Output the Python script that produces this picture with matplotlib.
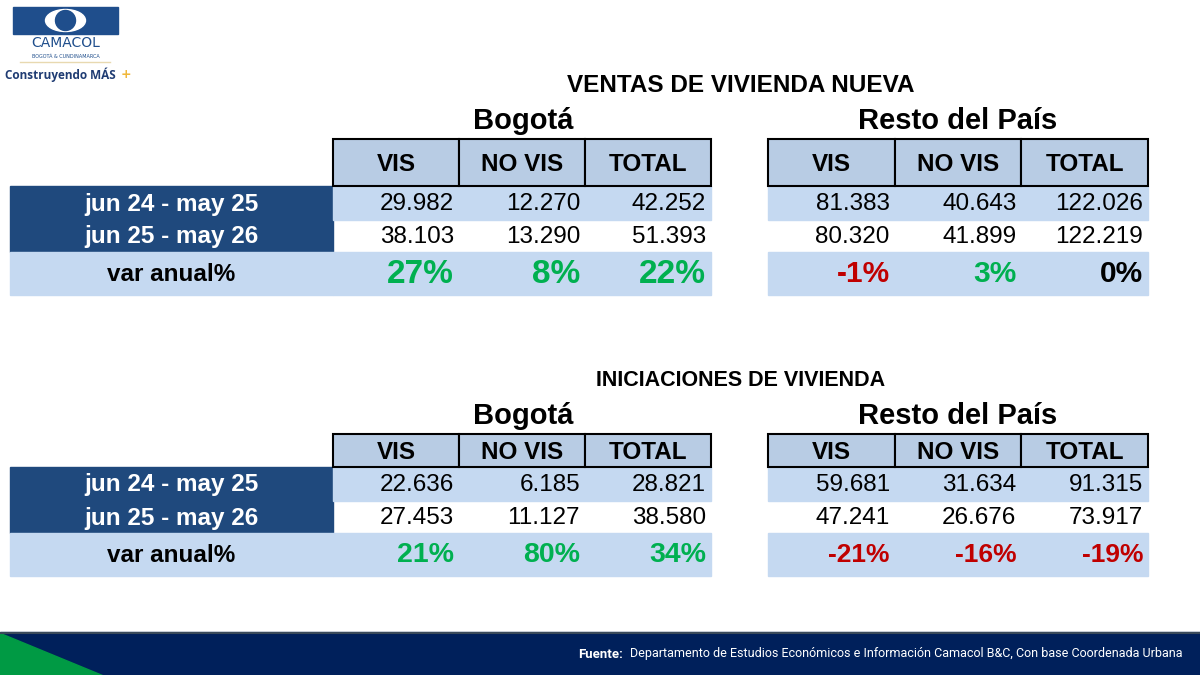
import matplotlib.pyplot as plt
from matplotlib.patches import Rectangle, Polygon, Ellipse

cols = ['VIS', 'NO VIS', 'TOTAL']
row_labels = ['jun 24 - may 25', 'jun 25 - may 26', 'var anual%']

ventas_bog = [['29.982', '12.270', '42.252'], ['38.103', '13.290', '51.393'], ['27%', '8%', '22%']]
ventas_resto = [['81.383', '40.643', '122.026'], ['80.320', '41.899', '122.219'], ['-1%', '3%', '0%']]
inic_bog = [['22.636', '6.185', '28.821'], ['27.453', '11.127', '38.580'], ['21%', '80%', '34%']]
inic_resto = [['59.681', '31.634', '91.315'], ['47.241', '26.676', '73.917'], ['-21%', '-16%', '-19%']]

DARK = '#1F497D'
LIGHT = '#C5D9F1'
HEAD = '#B8CCE4'
GREEN = '#00B050'
RED = '#C00000'
FONT = 'Liberation Sans'

fig = plt.figure(figsize=(12, 6.75), dpi=100)
ax = fig.add_axes([0, 0, 1, 1])
ax.set_xlim(0, 1200)
ax.set_ylim(675, 0)
ax.axis('off')


def pct_color(s):
    v = int(s.replace('%', ''))
    if v > 0:
        return GREEN
    if v < 0:
        return RED
    return 'black'


def block(y0, hh, title_y, sub_y, title_size, title, bog, resto, pct_sizes):
    ax.text(741, title_y, title, ha='center', va='center', fontsize=title_size, fontweight='bold', family=FONT)
    ax.text(523, sub_y, 'Bogotá', ha='center', va='center', fontsize=21, fontweight='bold', family=FONT)
    ax.text(958, sub_y, 'Resto del País', ha='center', va='center', fontsize=21, fontweight='bold', family=FONT)
    r1 = y0 + hh
    r2, r3 = r1 + 34, r1 + 66
    bottom = r3 + 43
    ax.add_patch(Rectangle((10, r1), 323, r3 - r1, color=DARK))
    ax.add_patch(Rectangle((10, r3), 323, bottom - r3, color=LIGHT))
    for lab, (ya, yb), c in zip(row_labels, [(r1, r2), (r2, r3), (r3, bottom)], ['white', 'white', 'black']):
        ax.text(171, (ya + yb) / 2 + 1, lab, ha='center', va='center', fontsize=17.5, fontweight='bold',
                color=c, family=FONT)
    for x0, xw, data, ps in [(333, 126, bog, pct_sizes[0]), (768, 126.7, resto, pct_sizes[1])]:
        w3 = xw * 3
        ax.add_patch(Rectangle((x0, r1), w3, r2 - r1, color=LIGHT))
        ax.add_patch(Rectangle((x0, r3), w3, bottom - r3, color=LIGHT))
        for j, c in enumerate(cols):
            ax.add_patch(Rectangle((x0 + j * xw, y0), xw, hh, facecolor=HEAD, edgecolor='black', lw=1.5))
            ax.text(x0 + (j + 0.5) * xw, y0 + hh / 2 + 2, c, ha='center', va='center', fontsize=17.5,
                    fontweight='bold', family=FONT)
            xr = x0 + (j + 1) * xw - 5
            ax.text(xr, (r1 + r2) / 2 + 1, data[0][j], ha='right', va='center', fontsize=17.5, family=FONT)
            ax.text(xr, (r2 + r3) / 2 + 1, data[1][j], ha='right', va='center', fontsize=17.5, family=FONT)
            ax.text(xr, (r3 + bottom) / 2 + 1, data[2][j], ha='right', va='center', fontsize=ps,
                    fontweight='bold', color=pct_color(data[2][j]), family=FONT)


block(139, 47, 85, 121, 17.5, 'VENTAS DE VIVIENDA NUEVA', ventas_bog, ventas_resto, (24, 21.5))
block(434, 33, 381, 416, 15.5, 'INICIACIONES DE VIVIENDA', inic_bog, inic_resto, (20.5, 19))

# logo
ax.add_patch(Rectangle((13, 7), 105, 27, color='#1F4E8C'))
ax.add_patch(Ellipse((65.5, 20.5), 40, 22, color='white'))
ax.add_patch(Ellipse((65.5, 20.5), 20, 20, color='#1F4E8C'))
ax.text(65.5, 43, 'CAMACOL', ha='center', va='center', fontsize=10, color='#1F4E8C', family='DejaVu Sans')
ax.text(65.5, 57, 'BOGOTÁ & CUNDINAMARCA', ha='center', va='center', fontsize=3.5, color='#1F4E8C')
ax.plot([20, 110], [62, 62], color='#E8D9B0', lw=1)
ax.text(5, 75, 'Construyendo MÁS', ha='left', va='center', fontsize=8.5, fontweight='bold', color='#1F3C73',
        family='Open Sans')
ax.text(121, 74, '+', ha='left', va='center', fontsize=9, fontweight='bold', color='#F0B73A')

# footer
ax.add_patch(Rectangle((0, 632), 1200, 43, color='#00205B'))
ax.plot([0, 1200], [632.5, 632.5], color='#3A4A5A', lw=1.5)
ax.add_patch(Polygon([(0, 633), (0, 675), (102, 675)], color='#009A44'))
ax.text(1183, 654, 'Departamento de Estudios Económicos e Información Camacol B&C, Con base Coordenada Urbana',
        ha='right', va='center', fontsize=9, color='white', family='Roboto')
ax.text(578, 654, 'Fuente:', ha='left', va='center', fontsize=9.5, fontweight='bold', color='white', family='Roboto')

fig.savefig('out.png', dpi=100)
